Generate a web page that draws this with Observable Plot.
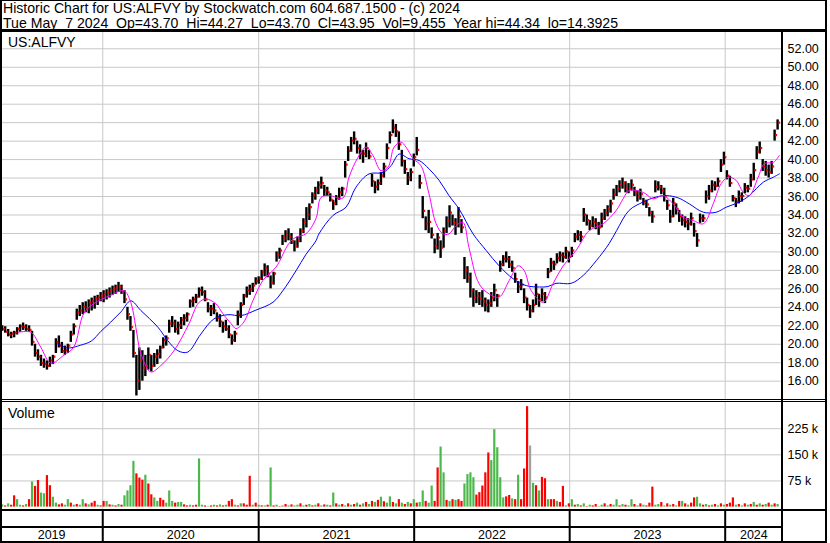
<!DOCTYPE html>
<html><head><meta charset="utf-8">
<script src="https://cdn.jsdelivr.net/npm/d3@7"></script>
<script src="https://cdn.jsdelivr.net/npm/@observablehq/plot@0.6"></script>
<style>
body{margin:0;background:#fff;}
#wrap{position:relative;width:830px;height:543px;font-family:Arial,"Liberation Sans",sans-serif;overflow:hidden;background:#fff;}
.ln{position:absolute;background:#000;}
.txt{position:absolute;white-space:pre;color:#000;line-height:1;}
.panel{position:absolute;left:0;}
.panel svg{display:block;overflow:visible;}
</style></head><body><div id="wrap"></div>
<script>
// ---------------- DATA ----------------
const titleLine1 = "Historic Chart for US:ALFVY by Stockwatch.com 604.687.1500 - (c) 2024";
const titleLine2 = "Tue May  7 2024  Op=43.70  Hi=44.27  Lo=43.70  Cl=43.95  Vol=9,455  Year hi=44.34  lo=14.3925";
const symbolLabel = "US:ALFVY";
const volumeLabel = "Volume";
const priceTicks = [16,18,20,22,24,26,28,30,32,34,36,38,40,42,44,46,48,50,52];
const volTicks = [75,150,225];
const yearLabels = ["2019","2020","2021","2022","2023","2024"];
const yearStarts = ["2020-01-01","2021-01-01","2022-01-01","2023-01-01","2024-01-01"];
const firstWeek = "2019-05-10";
const xStart = "2019-05-06", xEnd = "2024-05-14T12:00:00Z";

const lows = [21.4,21.2,20.8,20.6,20.7,21.0,21.3,21.5,21.4,21.3,
19.8,18.6,18.2,17.6,17.4,17.2,17.5,17.8,19.0,19.6,
19.0,18.8,19.0,20.2,21.0,22.6,23.0,23.2,23.4,23.3,
23.6,23.8,24.2,24.6,24.5,24.8,25.0,25.3,25.4,25.6,
25.4,24.4,22.6,21.4,18.5,14.4,15.0,16.0,16.5,17.2,
17.0,17.5,17.8,18.4,19.5,19.8,21.2,21.8,21.2,21.0,
21.6,22.0,22.4,23.9,24.0,24.4,25.0,25.2,24.6,23.4,
23.0,23.2,22.4,21.8,21.2,21.4,20.6,19.9,20.2,22.0,
22.8,24.2,25.0,25.3,25.6,26.4,26.5,26.9,27.3,27.2,
26.0,26.4,28.9,29.2,30.7,31.0,31.2,30.8,30.0,30.4,
31.0,32.0,32.6,33.4,35.2,35.6,36.2,36.8,36.0,36.0,
35.4,34.5,35.0,35.6,36.0,38.0,39.8,40.8,41.6,40.6,
40.0,39.6,40.2,40.0,37.0,36.3,36.6,37.2,38.0,40.0,
41.7,42.8,42.4,41.0,39.2,38.4,37.2,37.6,39.2,40.4,
36.8,33.6,32.3,32.0,31.4,29.8,30.2,29.3,30.4,32.0,
32.6,32.8,31.8,32.6,32.0,27.0,26.6,25.0,24.0,24.4,
24.2,24.0,23.5,23.4,24.0,24.6,24.0,27.8,28.4,28.8,
28.2,27.8,26.6,25.5,25.8,24.4,23.6,22.8,23.4,24.2,
24.0,24.6,24.4,27.1,27.8,28.0,28.7,28.9,28.8,29.2,
28.8,29.4,31.0,31.2,31.0,33.2,32.8,32.3,32.6,32.4,
31.8,32.6,33.4,33.8,34.2,35.6,36.0,36.4,36.8,36.4,
36.3,36.6,36.0,35.4,35.6,35.0,34.7,33.8,33.1,36.4,
36.6,36.2,35.4,34.5,33.1,33.7,34.0,33.2,32.8,32.6,
32.3,32.8,31.6,30.5,33.1,33.2,35.2,35.6,36.4,36.6,
37.0,38.6,39.4,37.8,37.0,35.4,34.8,35.2,35.4,36.3,
36.4,37.0,37.7,40.0,40.6,38.7,38.2,38.0,38.4,42.0,
43.2];
const highs = [22.0,21.9,21.6,21.3,21.4,21.8,22.1,22.3,22.1,22.0,
21.4,20.0,19.4,18.8,18.4,18.2,18.6,18.8,20.6,20.9,
20.2,19.8,20.0,21.4,22.2,23.8,24.2,24.5,24.6,24.8,
25.0,25.2,25.3,25.6,25.8,25.9,26.1,26.3,26.4,26.7,
26.4,25.8,24.0,23.0,21.5,18.8,19.6,19.3,18.8,19.6,
18.8,19.0,19.4,19.8,20.7,20.9,22.6,23.0,22.6,22.4,
22.9,23.2,23.4,24.8,25.1,25.4,26.1,26.2,25.8,24.5,
24.2,24.4,23.4,23.2,22.4,22.6,22.0,21.0,21.4,23.6,
24.5,25.4,26.2,26.4,26.6,27.2,27.3,28.0,28.7,28.5,
27.4,27.8,30.0,30.4,31.8,32.3,32.5,32.0,31.2,31.6,
32.5,33.6,34.8,35.2,36.4,37.0,37.6,38.1,37.2,37.0,
36.3,35.6,36.1,36.9,37.0,39.8,41.4,42.4,43.0,42.0,
41.6,41.0,41.8,41.0,38.4,37.6,37.8,38.6,39.6,41.7,
43.0,44.3,43.8,43.0,41.0,39.9,38.6,39.0,40.6,42.4,
38.3,36.0,33.8,34.5,32.6,31.4,32.0,31.2,32.6,33.8,
35.0,34.0,33.6,34.8,33.5,29.4,28.4,27.7,26.0,25.8,
25.6,25.8,25.0,24.8,25.6,26.5,25.4,29.0,29.6,30.0,
29.5,29.0,27.7,26.8,27.0,26.0,25.0,24.2,24.8,26.5,
25.4,26.0,25.6,28.2,29.3,29.0,29.8,30.0,29.9,30.5,
30.0,30.5,32.0,32.3,32.2,34.7,34.0,33.4,33.8,33.6,
33.2,34.2,34.6,35.0,35.6,36.8,37.2,37.7,38.0,37.6,
37.4,37.8,37.0,36.6,36.8,35.8,35.6,34.8,34.4,37.7,
37.6,37.2,36.9,35.6,34.5,35.8,35.2,34.5,34.0,33.8,
33.6,34.2,33.1,32.0,34.1,34.0,36.6,37.2,37.7,37.6,
38.0,40.0,40.8,38.8,38.2,36.1,35.8,36.6,36.4,37.4,
37.2,38.4,39.6,41.4,41.9,40.0,39.8,39.4,39.8,43.2,
44.3];
const closes = [21.6,21.3,21.0,21.1,21.2,21.6,21.9,21.8,21.6,21.5,
20.2,19.0,18.6,17.9,17.8,17.6,18.2,18.6,20.2,19.8,
19.2,19.3,19.8,21.0,21.9,23.4,23.6,24.0,23.8,24.4,
24.6,24.9,25.0,25.2,25.4,25.6,25.8,25.9,26.1,26.2,
25.7,24.8,23.2,21.8,19.0,16.0,18.2,17.4,17.6,18.8,
17.6,18.6,18.9,19.6,20.4,20.6,22.2,22.2,21.6,22.0,
22.6,22.8,23.2,24.6,24.8,25.1,25.8,25.6,24.8,23.8,
23.8,23.6,22.8,22.4,21.9,21.6,21.0,20.4,21.1,23.2,
24.2,25.2,25.8,25.9,26.3,26.8,27.1,27.8,28.2,27.6,
26.6,27.6,29.7,30.1,31.5,31.8,31.6,31.1,30.6,31.2,
32.2,33.2,34.0,34.8,36.1,36.6,37.2,37.4,36.6,36.4,
35.6,35.2,35.8,36.4,36.8,39.4,40.9,42.0,42.2,41.2,
40.6,40.6,41.2,40.3,37.6,37.0,37.4,38.2,39.2,41.2,
42.6,43.4,43.0,41.6,39.8,38.9,38.0,38.6,40.2,41.0,
37.4,34.4,33.0,33.2,31.8,30.6,31.5,30.4,32.2,33.3,
34.2,33.2,33.0,33.8,32.6,28.0,27.2,25.8,25.0,25.2,
24.9,24.6,24.2,24.4,25.0,25.8,25.2,28.6,29.2,29.2,
28.6,28.2,27.0,26.2,26.4,25.0,24.2,23.6,24.2,25.4,
24.8,25.4,25.0,27.8,28.8,28.6,29.3,29.6,29.4,30.0,
29.4,30.1,31.6,31.8,31.6,34.0,33.4,32.8,33.2,33.0,
32.6,33.6,34.2,34.6,35.2,36.2,36.8,37.2,37.4,36.9,
36.8,37.2,36.4,36.0,36.2,35.4,35.1,34.2,33.8,37.0,
37.0,36.6,36.0,35.0,33.8,35.2,34.6,33.8,33.4,33.2,
33.0,33.6,32.2,31.2,33.6,33.6,36.0,36.6,37.2,37.1,
37.6,39.4,40.2,38.2,37.4,35.8,35.4,36.0,36.0,36.9,
36.8,37.8,38.8,40.8,41.2,39.2,38.8,38.6,39.2,42.6,
43.95];
// weekly volume, thousands of shares
const volumes = [15,12,18,14,41,30,14,12,16,30,
81,68,85,49,47,99,70,37,20,15,
18,14,30,20,14,16,14,30,18,15,
20,25,14,12,25,25,15,14,12,16,
14,41,55,70,140,104,92,86,100,75,
44,35,25,34,28,20,55,25,20,22,
22,15,12,14,12,14,147,14,12,10,
12,14,12,15,12,14,25,30,14,12,
18,18,14,97,14,20,14,12,12,14,
121,12,14,10,12,16,12,15,12,14,
18,12,14,16,12,14,18,12,15,14,
12,49,18,14,16,12,18,14,16,20,
14,18,22,16,25,22,28,37,24,20,
38,22,18,30,20,16,22,18,30,20,
22,55,25,20,69,25,121,181,107,28,
25,30,28,30,25,75,102,107,93,43,
50,69,107,164,142,231,179,93,35,38,
42,32,30,100,30,118,297,184,77,70,
55,94,90,30,30,30,25,22,68,12,
18,30,14,16,12,18,10,14,12,16,
10,14,18,12,16,14,30,12,16,14,
12,30,16,12,18,14,12,20,66,14,
16,22,12,18,14,16,12,25,25,18,
14,20,35,37,18,14,16,12,14,16,
12,18,14,16,20,35,14,16,12,18,
14,16,22,14,18,14,16,20,14,18,
16];
// g = up week, r = down week, n = unchanged
const volumeDirs = "grgrrggrgr"+"grrggrrggr"+"rggrgrggrg"+"rrgrrgrgrg"+"rggggrrrgr"+
"rggrrgggrg"+"grrgrrggrg"+"rgrgrgrrgr"+"grrrgrgrgr"+"grgrgrgrgg"+
"rgrgrgrgrg"+"rgrgrgrgrg"+"rgrgrgrgrg"+"grgrgrgrgr"+"ggrggrrggr"+
"grgrrggggr"+"rrrrgggggr"+"rgrgrrrngr"+"grrgrrgrrg"+"rgrgrgrgrr"+
"ggrgrggrgr"+"ggrgrgrrrg"+"grgrgrgrgr"+"grrggrgrgr"+"grgrrrgrgr"+
"grgrgrgrgr"+"g";
// moving averages: [week index, value]
const maShort = [[5.5,21.3],[9.6,21.3],[12.9,19.7],[16.3,17.95],[20.6,18.8],[24,19.7],[27.3,23.3],[30.7,24.4],[36.4,25.3],[40.8,25.8],[43.1,24.55],[44.8,21.85],[46.5,19.0],[49.8,17.0],[53.2,17.7],[57.6,19.3],[62.6,22.2],[65.9,24.5],[68.3,24.9],[71.6,24.4],[74,23.3],[76.7,22.25],[78.4,21.7],[81,22.4],[84.1,24.75],[87.4,26.9],[91.8,28.35],[96.1,30.9],[98.5,31.6],[101.8,31.95],[105.2,33.6],[106.9,35.9],[109.6,36.1],[114.3,35.85],[116.3,38.1],[119.3,40.25],[122,41.35],[124.3,40.45],[127,38.8],[129.4,39.2],[131.4,41.35],[133.7,41.9],[135.4,41.35],[137.8,40.1],[140.4,39.35],[143.1,36.3],[145.5,33.05],[147.8,31.95],[149.8,31.95],[152.2,32.85],[154.5,33.2],[156.5,30.5],[159.9,26.55],[163.3,25.45],[166.6,25.1],[170,26.9],[173,28.5],[175,28.0],[177.4,25.8],[181.4,24.55],[184.7,26.55],[188.1,28.5],[192.4,30.15],[196.8,32.3],[201.5,33.05],[205.9,34.5],[208.2,35.75],[210.2,36.65],[214.9,36.45],[218.3,35.75],[221.6,36.1],[225,35.2],[228.4,33.75],[231.7,33.4],[235.1,33.05],[238.4,35.2],[241.1,37.4],[243.5,38.1],[246.1,37.75],[248.5,36.45],[250.5,36.1],[253.5,38.1],[255.5,39.55],[258.6,39.7],[260.6,40.45]];
const maLong = [[18.6,20.05],[22,19.6],[26.3,19.9],[29.9,20.35],[33.1,21.4],[36.4,22.4],[39.8,23.5],[43.1,24.7],[46.5,23.65],[52.2,21.85],[55.5,20.4],[58.9,19.3],[62.2,19.15],[66.6,21.1],[71,22.75],[75.7,23.2],[80,23.1],[85.1,23.7],[90.8,24.55],[94.1,25.8],[98.5,27.95],[101.8,29.7],[105.2,31.2],[106.2,31.95],[110.9,33.95],[115.3,34.85],[118.6,37.0],[123,38.45],[127.7,38.6],[130.4,39.35],[133.1,40.6],[136.4,40.1],[139.8,39.9],[143.1,39.0],[146.5,37.75],[149.8,36.1],[153.2,34.65],[157.9,31.95],[162.3,30.15],[166.6,28.5],[171.3,27.1],[175.7,26.35],[180.2,26.2],[183,26.25],[185.7,26.6],[190.8,26.6],[194.8,27.45],[199.2,29.05],[203.5,30.9],[206,32.3],[210.2,34.5],[214.9,35.4],[219.3,35.95],[222.7,36.1],[226.7,35.85],[230.4,35.2],[235.1,34.3],[239.4,34.3],[242.8,34.85],[247.2,35.4],[250.5,36.1],[255.2,37.55],[258.6,38.1],[260.6,38.45]];

// ---------------- BUILD ----------------
const DAY = 864e5;
const t0 = new Date(firstWeek).getTime();
const weekDate = i => new Date(t0 + i * 7 * DAY);
const weeks = lows.map((lo, i) => ({date: weekDate(i), low: lo, high: highs[i], close: closes[i]}));
const vols = volumes.map((v, i) => ({date: weekDate(i), v, dir: volumeDirs[i]}));
const maS = maShort.map(([i, v]) => ({date: weekDate(i), v}));
const maL = maLong.map(([i, v]) => ({date: weekDate(i), v}));
const yearDates = yearStarts.map(d => new Date(d));
const xDomain = [new Date(xStart), new Date(xEnd)];
const dirColor = {g: "#4cb84c", r: "#ff0000", n: "#a0a0a0"};
const FONT = "Arial, 'Liberation Sans', sans-serif";

const wrap = document.getElementById("wrap");
function addLine(l, t, w, h) { const d = document.createElement("div"); d.className = "ln"; Object.assign(d.style, {left: l + "px", top: t + "px", width: w + "px", height: h + "px"}); wrap.appendChild(d); }
function addText(s, l, t, fs) { const d = document.createElement("div"); d.className = "txt"; d.textContent = s; Object.assign(d.style, {left: l + "px", top: t + "px", fontSize: fs + "px"}); wrap.appendChild(d); }
function addPanel(svg, top) { const d = document.createElement("div"); d.className = "panel"; d.style.top = top + "px"; d.appendChild(svg); wrap.appendChild(d); }

const xOpt = {type: "utc", domain: xDomain, range: [0, 782], axis: null};
const baseStyle = {fontFamily: FONT, fontSize: "12.5px", color: "#000", background: "transparent", overflow: "visible"};

// price panel
const price = Plot.plot({
  width: 830, height: 367, marginTop: 0, marginBottom: 0, marginLeft: 0, marginRight: 48,
  x: xOpt,
  y: {domain: [14.016, 53.765], range: [367, 0], axis: null},
  style: baseStyle,
  marks: [
    Plot.ruleY(priceTicks, {stroke: "#c8c8c8", strokeOpacity: 1}),
    Plot.ruleX(yearDates, {stroke: "#c8c8c8", strokeOpacity: 1}),
    Plot.ruleX(weeks, {x: "date", y1: "low", y2: "high", stroke: "#000", strokeWidth: 2.4, clip: true}),
    Plot.ruleX(weeks, {x: "date", y1: d => d.close - 0.12, y2: d => d.close + 0.12, stroke: "#ff0000", strokeWidth: 1.8, dx: 1.6, clip: true}),
    Plot.line(maL, {x: "date", y: "v", stroke: "#0000ff", strokeWidth: 1, curve: "catmull-rom"}),
    Plot.line(maS, {x: "date", y: "v", stroke: "#ff00ff", strokeWidth: 1, curve: "catmull-rom"}),
    Plot.axisY(priceTicks, {anchor: "right", label: null, tickSize: 0, tickPadding: 5, tickFormat: d => d.toFixed(2), fontSize: 12.5})
  ]
});
addPanel(price, 32);

// volume panel
const volume = Plot.plot({
  width: 830, height: 108, marginTop: 0, marginBottom: 0, marginLeft: 0, marginRight: 48,
  x: xOpt,
  y: {domain: [-6.9, 303.1], range: [108, 0], axis: null, label: null},
  color: {type: "identity"},
  style: baseStyle,
  marks: [
    Plot.ruleY(volTicks, {stroke: "#c8c8c8", strokeOpacity: 1}),
    Plot.ruleX(yearDates, {stroke: "#c8c8c8", strokeOpacity: 1}),
    Plot.ruleX(vols, {x: "date", y1: 0, y2: "v", stroke: d => dirColor[d.dir], strokeWidth: 2.2, insetBottom: -3}),
    Plot.axisY(volTicks, {anchor: "right", label: null, tickSize: 0, tickPadding: 5, tickFormat: d => d + " k", fontSize: 12.5})
  ]
});
addPanel(volume, 401);

// year axis band
const midYears = yearLabels.map((y) => {
  const a = Math.max(+xDomain[0], +new Date(y + "-01-01"));
  const b = Math.min(+xDomain[1], +new Date((+y + 1) + "-01-01"));
  return {label: y, date: new Date((a + b) / 2)};
});
const axisBand = Plot.plot({
  width: 830, height: 33, marginTop: 0, marginBottom: 0, marginLeft: 0, marginRight: 48,
  x: xOpt,
  style: baseStyle,
  marks: [
    Plot.ruleX(yearDates, {stroke: "#000", strokeWidth: 2}),
    Plot.text(midYears, {x: "date", text: "label", frameAnchor: "bottom", dy: -4, lineAnchor: "bottom", fontSize: 12.5, fill: "#000"})
  ]
});
addPanel(axisBand, 509);

// header text
addText(titleLine1, 3, 1, 14.1);
addText(titleLine2, 3, 16, 14.1);
addText(symbolLabel, 8, 35, 14);
addText(volumeLabel, 8, 406, 14);

// frame lines
addLine(0, 0, 827, 1);
addLine(0, 29, 827, 3);
addLine(0, 0, 2, 543);
addLine(825, 0, 2, 543);
addLine(781, 31, 2, 512);
addLine(0, 399, 827, 1);
addLine(0, 401, 827, 1);
addLine(0, 509, 827, 2);
addLine(0, 526, 781, 2);
addLine(0, 541, 827, 2);
</script></body></html>
